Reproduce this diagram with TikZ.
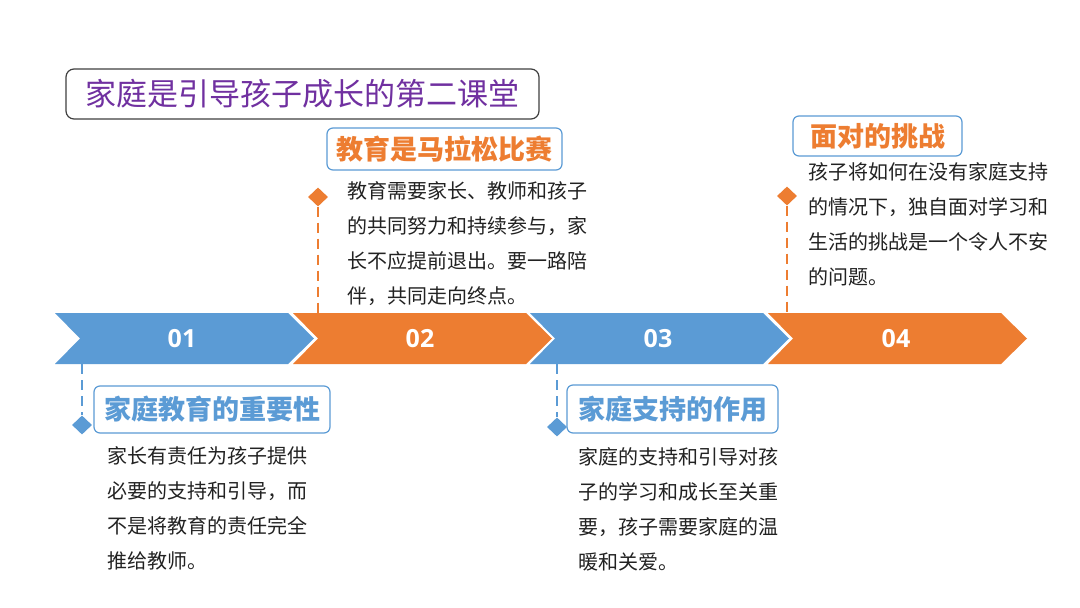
\documentclass[tikz,border=0pt]{standalone}
\usepackage{fontspec}
\usepackage{xcolor}
\usepackage{tikz}
\usetikzlibrary{positioning, shapes.geometric}
\newfontfamily\cjk{Noto Sans CJK SC}
\newfontfamily\numfont{Open Sans}
\definecolor{stepblue}{HTML}{5B9BD5}
\definecolor{steporange}{HTML}{ED7D31}
\definecolor{titlepurple}{HTML}{7030A0}
\definecolor{bodytext}{HTML}{222222}

\begin{document}
\begin{tikzpicture}[
  x=1pt, y=-1pt,
  chevron/.style={fill=#1},
  num/.style={font=\numfont\bfseries\fontsize{25}{30}\selectfont, text=white, inner sep=0pt},
  heading/.style={
    draw=stepblue, line width=1.2pt, rounded corners=6pt, inner sep=0pt,
    font=\cjk\bfseries\fontsize{27}{32}\selectfont, text=#1
  },
  body/.style={
    anchor=north west, inner sep=0pt, align=left, text=bodytext,
    font=\cjk\fontsize{20}{35}\selectfont
  },
  marker/.style={
    diamond, fill=#1, minimum width=20pt, minimum height=19pt, inner sep=0pt
  },
  link/.style={draw=#1, line width=2.5pt, dash pattern=on 10pt off 6pt}
]
\path[fill=white, use as bounding box] (0,0) rectangle (1080,608);

% Title
\node[draw=black!75, line width=1.2pt, rounded corners=8pt, inner sep=0pt,
  minimum width=473pt, minimum height=50pt, text=titlepurple,
  font=\cjk\fontsize{31}{38}\selectfont] (title) at (302.5,94) {家庭是引导孩子成长的第二课堂};

% Chevrons
\fill[chevron=stepblue]   (55,313)  -- (288,313)  -- (314,338.5)  -- (288,364)  -- (55,364)  -- (80,338.5)  -- cycle;
\fill[chevron=steporange] (293,313) -- (526,313)  -- (552,338.5)  -- (526,364)  -- (293,364) -- (318,338.5) -- cycle;
\fill[chevron=stepblue]   (530,313) -- (763,313)  -- (789,338.5)  -- (763,364)  -- (530,364) -- (555,338.5) -- cycle;
\fill[chevron=steporange] (768,313) -- (1001,313) -- (1027,338.5) -- (1001,364) -- (768,364) -- (793,338.5) -- cycle;

\node[num] (n1) at (182,338.5) {01};
\node[num] (n2) at (420,338.5) {02};
\node[num] (n3) at (658,338.5) {03};
\node[num] (n4) at (896,338.5) {04};

\coordinate (top2) at (318,313);
\coordinate (top4) at (787,313);
\coordinate (bot1) at (82,364);
\coordinate (bot3) at (557,364);

% Upper items
\node[heading=steporange, minimum width=235pt, minimum height=42pt] (h2) at (444.5,149) {教育是马拉松比赛};
\node[marker=steporange] (d2) at (318,197) {};
\node[body] (b2) at (347,181) {教育需要家长、教师和孩子\\的共同努力和持续参与，家\\长不应提前退出。要一路陪\\伴，共同走向终点。};
\draw[link=steporange] (d2) -- (top2);

\node[heading=steporange, minimum width=169pt, minimum height=40pt] (h4) at (877.5,136) {面对的挑战};
\node[marker=steporange] (d4) at (787,196) {};
\node[body] (b4) at (808,162) {孩子将如何在没有家庭支持\\的情况下，独自面对学习和\\生活的挑战是一个令人不安\\的问题。};
\draw[link=steporange] (d4) -- (top4);

% Lower items
\node[heading=stepblue, minimum width=236pt, minimum height=47pt] (h1) at (212,409.5) {家庭教育的重要性};
\node[marker=stepblue] (d1) at (82,425) {};
\node[body] (b1) at (107,446) {家长有责任为孩子提供\\必要的支持和引导，而\\不是将教育的责任完全\\推给教师。};
\draw[link=stepblue] (bot1) -- (d1);

\node[heading=stepblue, minimum width=211pt, minimum height=48pt] (h3) at (672.5,409) {家庭支持的作用};
\node[marker=stepblue] (d3) at (557,427) {};
\node[body] (b3) at (578,447) {家庭的支持和引导对孩\\子的学习和成长至关重\\要，孩子需要家庭的温\\暖和关爱。};
\draw[link=stepblue] (bot3) -- (d3);

\end{tikzpicture}
\end{document}
